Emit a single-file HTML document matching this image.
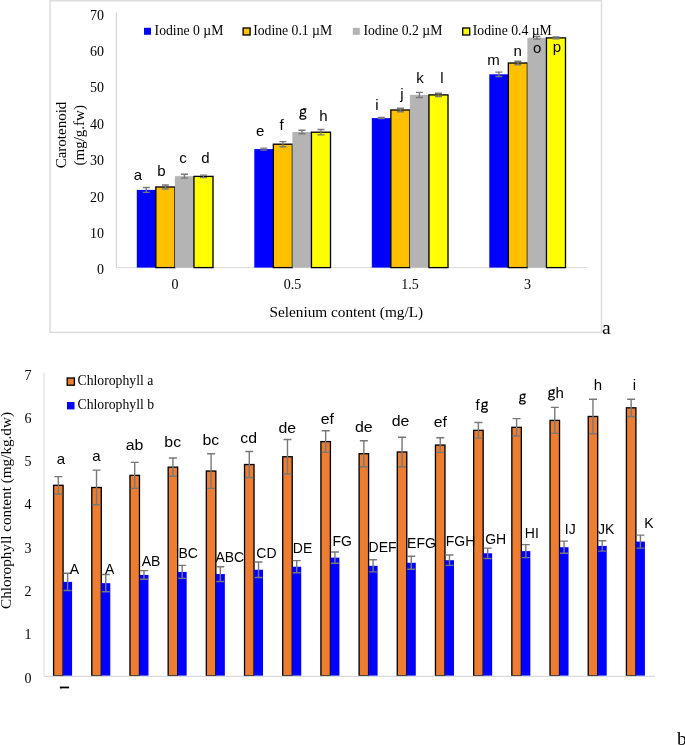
<!DOCTYPE html>
<html><head><meta charset="utf-8"><style>
html,body{margin:0;padding:0;background:#fff;width:685px;height:745px;overflow:hidden}
svg{display:block;will-change:transform}
text{fill:#000}
</style></head><body>
<svg width="685" height="745" viewBox="0 0 685 745">
<rect x="50.0" y="0.8" width="551.5" height="331.59999999999997" fill="#fff" stroke="#dcdcdc" stroke-width="1.5"/>
<line x1="116.3" y1="12.8" x2="116.3" y2="267.6" stroke="#d9d9d9" stroke-width="1.3"/>
<line x1="116.3" y1="267.6" x2="587" y2="267.6" stroke="#d9d9d9" stroke-width="1"/>
<rect x="136.80" y="189.90" width="19.05" height="77.70" fill="#0000ff"/>
<rect x="155.85" y="187.00" width="19.05" height="80.60" fill="#ffc000" stroke="#000" stroke-width="1.33"/>
<rect x="174.90" y="176.20" width="19.05" height="91.40" fill="#b4b4b4"/>
<rect x="193.95" y="176.40" width="19.05" height="91.20" fill="#ffff00" stroke="#000" stroke-width="1.33"/>
<rect x="254.30" y="149.10" width="19.05" height="118.50" fill="#0000ff"/>
<rect x="273.35" y="144.20" width="19.05" height="123.40" fill="#ffc000" stroke="#000" stroke-width="1.33"/>
<rect x="292.40" y="132.00" width="19.05" height="135.60" fill="#b4b4b4"/>
<rect x="311.45" y="132.20" width="19.05" height="135.40" fill="#ffff00" stroke="#000" stroke-width="1.33"/>
<rect x="371.80" y="118.10" width="19.05" height="149.50" fill="#0000ff"/>
<rect x="390.85" y="110.00" width="19.05" height="157.60" fill="#ffc000" stroke="#000" stroke-width="1.33"/>
<rect x="409.90" y="94.90" width="19.05" height="172.70" fill="#b4b4b4"/>
<rect x="428.95" y="94.90" width="19.05" height="172.70" fill="#ffff00" stroke="#000" stroke-width="1.33"/>
<rect x="489.30" y="74.30" width="19.05" height="193.30" fill="#0000ff"/>
<rect x="508.35" y="63.00" width="19.05" height="204.60" fill="#ffc000" stroke="#000" stroke-width="1.33"/>
<rect x="527.40" y="37.80" width="19.05" height="229.80" fill="#b4b4b4"/>
<rect x="546.45" y="37.90" width="19.05" height="229.70" fill="#ffff00" stroke="#000" stroke-width="1.33"/>
<path d="M142.83 187.45H149.83M146.33 187.45V192.35M142.83 192.35H149.83" stroke="#787878" stroke-width="1.4" fill="none"/>
<path d="M161.88 184.95H168.88M165.38 184.95V189.05M161.88 189.05H168.88" stroke="#787878" stroke-width="1.4" fill="none"/>
<path d="M180.93 174.25H187.93M184.43 174.25V178.15M180.93 178.15H187.93" stroke="#787878" stroke-width="1.4" fill="none"/>
<path d="M199.98 175.15H206.98M203.48 175.15V177.65M199.98 177.65H206.98" stroke="#787878" stroke-width="1.4" fill="none"/>
<path d="M260.32 148.10H267.32M263.82 148.10V150.10M260.32 150.10H267.32" stroke="#787878" stroke-width="1.4" fill="none"/>
<path d="M279.37 141.60H286.37M282.87 141.60V146.80M279.37 146.80H286.37" stroke="#787878" stroke-width="1.4" fill="none"/>
<path d="M298.42 130.30H305.42M301.92 130.30V133.70M298.42 133.70H305.42" stroke="#787878" stroke-width="1.4" fill="none"/>
<path d="M317.47 129.50H324.47M320.97 129.50V134.90M317.47 134.90H324.47" stroke="#787878" stroke-width="1.4" fill="none"/>
<path d="M377.82 117.55H384.82M381.32 117.55V118.65M377.82 118.65H384.82" stroke="#787878" stroke-width="1.4" fill="none"/>
<path d="M396.87 108.25H403.87M400.37 108.25V111.75M396.87 111.75H403.87" stroke="#787878" stroke-width="1.4" fill="none"/>
<path d="M415.92 92.35H422.92M419.42 92.35V97.45M415.92 97.45H422.92" stroke="#787878" stroke-width="1.4" fill="none"/>
<path d="M434.97 93.30H441.97M438.47 93.30V96.50M434.97 96.50H441.97" stroke="#787878" stroke-width="1.4" fill="none"/>
<path d="M495.32 72.15H502.32M498.82 72.15V76.45M495.32 76.45H502.32" stroke="#787878" stroke-width="1.4" fill="none"/>
<path d="M514.38 61.20H521.38M517.88 61.20V64.80M514.38 64.80H521.38" stroke="#787878" stroke-width="1.4" fill="none"/>
<path d="M533.42 36.50H540.42M536.92 36.50V39.10M533.42 39.10H540.42" stroke="#787878" stroke-width="1.4" fill="none"/>
<path d="M552.47 37.05H559.47M555.97 37.05V38.75M552.47 38.75H559.47" stroke="#787878" stroke-width="1.4" fill="none"/>
<text x="104" y="274.40" text-anchor="end" font-family='"Liberation Serif", serif' font-size="14">0</text>
<text x="104" y="238.00" text-anchor="end" font-family='"Liberation Serif", serif' font-size="14">10</text>
<text x="104" y="201.60" text-anchor="end" font-family='"Liberation Serif", serif' font-size="14">20</text>
<text x="104" y="165.20" text-anchor="end" font-family='"Liberation Serif", serif' font-size="14">30</text>
<text x="104" y="128.80" text-anchor="end" font-family='"Liberation Serif", serif' font-size="14">40</text>
<text x="104" y="92.40" text-anchor="end" font-family='"Liberation Serif", serif' font-size="14">50</text>
<text x="104" y="56.00" text-anchor="end" font-family='"Liberation Serif", serif' font-size="14">60</text>
<text x="104" y="19.60" text-anchor="end" font-family='"Liberation Serif", serif' font-size="14">70</text>
<text x="174.90" y="289" text-anchor="middle" font-family='"Liberation Serif", serif' font-size="14">0</text>
<text x="292.40" y="289" text-anchor="middle" font-family='"Liberation Serif", serif' font-size="14">0.5</text>
<text x="409.90" y="289" text-anchor="middle" font-family='"Liberation Serif", serif' font-size="14">1.5</text>
<text x="527.40" y="289" text-anchor="middle" font-family='"Liberation Serif", serif' font-size="14">3</text>
<text x="346.3" y="317.3" text-anchor="middle" font-family='"Liberation Serif", serif' font-size="15.3">Selenium content (mg/L)</text>
<text transform="translate(66,135) rotate(-90)" text-anchor="middle" font-family='"Liberation Serif", serif' font-size="15">Carotenoid</text>
<text transform="translate(84,135.3) rotate(-90)" text-anchor="middle" font-family='"Liberation Serif", serif' font-size="15">(mg/g.fw)</text>
<rect x="144" y="27.8" width="7" height="7" fill="#0000ff"/>
<text x="154.6" y="34.6" font-family='"Liberation Serif", serif' font-size="13.7">Iodine 0 µM</text>
<rect x="243.1" y="28" width="7" height="7" fill="#ffc000" stroke="#000" stroke-width="1.33"/>
<text x="253.2" y="34.6" font-family='"Liberation Serif", serif' font-size="13.7">Iodine 0.1 µM</text>
<rect x="352.8" y="27.8" width="7" height="7" fill="#b4b4b4"/>
<text x="363.40000000000003" y="34.6" font-family='"Liberation Serif", serif' font-size="13.7">Iodine 0.2 µM</text>
<rect x="462.7" y="28" width="7" height="7" fill="#ffff00" stroke="#000" stroke-width="1.33"/>
<text x="472.8" y="34.6" font-family='"Liberation Serif", serif' font-size="13.7">Iodine 0.4 µM</text>
<text x="137.9" y="180.0" text-anchor="middle" font-family='"Liberation Sans", sans-serif' font-size="15">a</text>
<text x="161.5" y="175.8" text-anchor="middle" font-family='"Liberation Sans", sans-serif' font-size="15">b</text>
<text x="183.1" y="162.6" text-anchor="middle" font-family='"Liberation Sans", sans-serif' font-size="15">c</text>
<text x="205.4" y="162.6" text-anchor="middle" font-family='"Liberation Sans", sans-serif' font-size="15">d</text>
<text x="260.2" y="135.5" text-anchor="middle" font-family='"Liberation Sans", sans-serif' font-size="15">e</text>
<text x="281.7" y="130.1" text-anchor="middle" font-family='"Liberation Sans", sans-serif' font-size="15">f</text>
<text x="323.4" y="120.7" text-anchor="middle" font-family='"Liberation Sans", sans-serif' font-size="15">h</text>
<text x="377.0" y="109.6" text-anchor="middle" font-family='"Liberation Sans", sans-serif' font-size="15">i</text>
<text x="402.0" y="98.7" text-anchor="middle" font-family='"Liberation Sans", sans-serif' font-size="15">j</text>
<text x="420.0" y="82.7" text-anchor="middle" font-family='"Liberation Sans", sans-serif' font-size="15">k</text>
<text x="442.0" y="82.7" text-anchor="middle" font-family='"Liberation Sans", sans-serif' font-size="15">l</text>
<text x="493.5" y="64.5" text-anchor="middle" font-family='"Liberation Sans", sans-serif' font-size="15">m</text>
<text x="517.7" y="55.5" text-anchor="middle" font-family='"Liberation Sans", sans-serif' font-size="15">n</text>
<text x="537.1" y="53.3" text-anchor="middle" font-family='"Liberation Sans", sans-serif' font-size="15">o</text>
<text x="557.0" y="52.3" text-anchor="middle" font-family='"Liberation Sans", sans-serif' font-size="15">p</text>
<path d="M302.97 108.91L306.44 108.91M300.63 111.31A2.40 2.09 0 1 0 305.42 111.31A2.40 2.09 0 1 0 300.63 111.31M301.03 112.89C300.22 113.71 300.22 115.03 301.54 115.69M299.91 117.43A2.96 1.79 0 1 0 305.83 117.43A2.96 1.79 0 1 0 299.91 117.43" fill="none" stroke="#000" stroke-width="1.22"/>
<text x="602" y="334" font-family='"Liberation Serif", serif' font-size="19.5">a</text>
<line x1="44" y1="372.9" x2="44" y2="675.8" stroke="#d9d9d9" stroke-width="1"/>
<rect x="53.59" y="485.32" width="9.5" height="190.48" fill="#ed7d31" stroke="#000" stroke-width="1.33"/>
<rect x="63.09" y="581.86" width="9" height="93.94" fill="#0000ff"/>
<rect x="91.78" y="487.49" width="9.5" height="188.31" fill="#ed7d31" stroke="#000" stroke-width="1.33"/>
<rect x="101.28" y="583.16" width="9" height="92.64" fill="#0000ff"/>
<rect x="129.97" y="475.37" width="9.5" height="200.43" fill="#ed7d31" stroke="#000" stroke-width="1.33"/>
<rect x="139.47" y="574.93" width="9" height="100.87" fill="#0000ff"/>
<rect x="168.16" y="467.14" width="9.5" height="208.66" fill="#ed7d31" stroke="#000" stroke-width="1.33"/>
<rect x="177.66" y="571.90" width="9" height="103.90" fill="#0000ff"/>
<rect x="206.34" y="471.04" width="9.5" height="204.76" fill="#ed7d31" stroke="#000" stroke-width="1.33"/>
<rect x="215.84" y="574.07" width="9" height="101.73" fill="#0000ff"/>
<rect x="244.53" y="464.54" width="9.5" height="211.26" fill="#ed7d31" stroke="#000" stroke-width="1.33"/>
<rect x="254.03" y="569.74" width="9" height="106.06" fill="#0000ff"/>
<rect x="282.72" y="456.75" width="9.5" height="219.05" fill="#ed7d31" stroke="#000" stroke-width="1.33"/>
<rect x="292.22" y="566.71" width="9" height="109.09" fill="#0000ff"/>
<rect x="320.91" y="441.60" width="9.5" height="234.20" fill="#ed7d31" stroke="#000" stroke-width="1.33"/>
<rect x="330.41" y="557.62" width="9" height="118.18" fill="#0000ff"/>
<rect x="359.09" y="453.72" width="9.5" height="222.08" fill="#ed7d31" stroke="#000" stroke-width="1.33"/>
<rect x="368.59" y="565.84" width="9" height="109.96" fill="#0000ff"/>
<rect x="397.28" y="451.99" width="9.5" height="223.81" fill="#ed7d31" stroke="#000" stroke-width="1.33"/>
<rect x="406.78" y="562.81" width="9" height="112.99" fill="#0000ff"/>
<rect x="435.47" y="445.06" width="9.5" height="230.74" fill="#ed7d31" stroke="#000" stroke-width="1.33"/>
<rect x="444.97" y="560.22" width="9" height="115.58" fill="#0000ff"/>
<rect x="473.66" y="430.35" width="9.5" height="245.45" fill="#ed7d31" stroke="#000" stroke-width="1.33"/>
<rect x="483.16" y="553.29" width="9" height="122.51" fill="#0000ff"/>
<rect x="511.84" y="427.32" width="9.5" height="248.48" fill="#ed7d31" stroke="#000" stroke-width="1.33"/>
<rect x="521.34" y="551.12" width="9" height="124.68" fill="#0000ff"/>
<rect x="550.03" y="420.39" width="9.5" height="255.41" fill="#ed7d31" stroke="#000" stroke-width="1.33"/>
<rect x="559.53" y="547.23" width="9" height="128.57" fill="#0000ff"/>
<rect x="588.22" y="416.49" width="9.5" height="259.31" fill="#ed7d31" stroke="#000" stroke-width="1.33"/>
<rect x="597.72" y="545.93" width="9" height="129.87" fill="#0000ff"/>
<rect x="626.41" y="407.83" width="9.5" height="267.97" fill="#ed7d31" stroke="#000" stroke-width="1.33"/>
<rect x="635.91" y="541.60" width="9" height="134.20" fill="#0000ff"/>
<line x1="44" y1="676.4" x2="655" y2="676.4" stroke="#d9d9d9" stroke-width="1.2"/>
<path d="M54.34 476.67H62.34M58.34 476.67V493.98M54.34 493.98H62.34" stroke="#787878" stroke-width="1.4" fill="none"/>
<path d="M63.59 573.20H71.59M67.59 573.20V590.52M63.59 590.52H71.59" stroke="#787878" stroke-width="1.4" fill="none"/>
<path d="M92.53 470.17H100.53M96.53 470.17V504.80M92.53 504.80H100.53" stroke="#787878" stroke-width="1.4" fill="none"/>
<path d="M101.78 574.50H109.78M105.78 574.50V591.82M101.78 591.82H109.78" stroke="#787878" stroke-width="1.4" fill="none"/>
<path d="M130.72 462.38H138.72M134.72 462.38V488.35M130.72 488.35H138.72" stroke="#787878" stroke-width="1.4" fill="none"/>
<path d="M139.97 570.61H147.97M143.97 570.61V579.26M139.97 579.26H147.97" stroke="#787878" stroke-width="1.4" fill="none"/>
<path d="M168.91 458.05H176.91M172.91 458.05V476.23M168.91 476.23H176.91" stroke="#787878" stroke-width="1.4" fill="none"/>
<path d="M178.16 565.41H186.16M182.16 565.41V578.40M178.16 578.40H186.16" stroke="#787878" stroke-width="1.4" fill="none"/>
<path d="M207.09 453.72H215.09M211.09 453.72V488.35M207.09 488.35H215.09" stroke="#787878" stroke-width="1.4" fill="none"/>
<path d="M216.34 566.71H224.34M220.34 566.71V581.43M216.34 581.43H224.34" stroke="#787878" stroke-width="1.4" fill="none"/>
<path d="M245.28 451.56H253.28M249.28 451.56V477.53M245.28 477.53H253.28" stroke="#787878" stroke-width="1.4" fill="none"/>
<path d="M254.53 561.95H262.53M258.53 561.95V577.53M254.53 577.53H262.53" stroke="#787878" stroke-width="1.4" fill="none"/>
<path d="M283.47 439.44H291.47M287.47 439.44V474.07M283.47 474.07H291.47" stroke="#787878" stroke-width="1.4" fill="none"/>
<path d="M292.72 560.65H300.72M296.72 560.65V572.77M292.72 572.77H300.72" stroke="#787878" stroke-width="1.4" fill="none"/>
<path d="M321.66 430.78H329.66M325.66 430.78V452.42M321.66 452.42H329.66" stroke="#787878" stroke-width="1.4" fill="none"/>
<path d="M330.91 551.99H338.91M334.91 551.99V563.25M330.91 563.25H338.91" stroke="#787878" stroke-width="1.4" fill="none"/>
<path d="M359.84 440.74H367.84M363.84 440.74V466.71M359.84 466.71H367.84" stroke="#787878" stroke-width="1.4" fill="none"/>
<path d="M369.09 559.78H377.09M373.09 559.78V571.90M369.09 571.90H377.09" stroke="#787878" stroke-width="1.4" fill="none"/>
<path d="M398.03 437.27H406.03M402.03 437.27V466.71M398.03 466.71H406.03" stroke="#787878" stroke-width="1.4" fill="none"/>
<path d="M407.28 556.32H415.28M411.28 556.32V569.31M407.28 569.31H415.28" stroke="#787878" stroke-width="1.4" fill="none"/>
<path d="M436.22 437.70H444.22M440.22 437.70V452.42M436.22 452.42H444.22" stroke="#787878" stroke-width="1.4" fill="none"/>
<path d="M445.47 555.02H453.47M449.47 555.02V565.41M445.47 565.41H453.47" stroke="#787878" stroke-width="1.4" fill="none"/>
<path d="M474.41 422.55H482.41M478.41 422.55V438.14M474.41 438.14H482.41" stroke="#787878" stroke-width="1.4" fill="none"/>
<path d="M483.66 548.09H491.66M487.66 548.09V558.48M483.66 558.48H491.66" stroke="#787878" stroke-width="1.4" fill="none"/>
<path d="M512.59 418.66H520.59M516.59 418.66V435.97M512.59 435.97H520.59" stroke="#787878" stroke-width="1.4" fill="none"/>
<path d="M521.84 544.63H529.84M525.84 544.63V557.62M521.84 557.62H529.84" stroke="#787878" stroke-width="1.4" fill="none"/>
<path d="M550.78 407.40H558.78M554.78 407.40V433.38M550.78 433.38H558.78" stroke="#787878" stroke-width="1.4" fill="none"/>
<path d="M560.03 541.17H568.03M564.03 541.17V553.29M560.03 553.29H568.03" stroke="#787878" stroke-width="1.4" fill="none"/>
<path d="M588.97 399.18H596.97M592.97 399.18V433.81M588.97 433.81H596.97" stroke="#787878" stroke-width="1.4" fill="none"/>
<path d="M598.22 540.74H606.22M602.22 540.74V551.12M598.22 551.12H606.22" stroke="#787878" stroke-width="1.4" fill="none"/>
<path d="M627.16 399.18H635.16M631.16 399.18V416.49M627.16 416.49H635.16" stroke="#787878" stroke-width="1.4" fill="none"/>
<path d="M636.41 535.11H644.41M640.41 535.11V548.09M636.41 548.09H644.41" stroke="#787878" stroke-width="1.4" fill="none"/>
<text x="31.5" y="682.60" text-anchor="end" font-family='"Liberation Serif", serif' font-size="14">0</text>
<text x="31.5" y="639.31" text-anchor="end" font-family='"Liberation Serif", serif' font-size="14">1</text>
<text x="31.5" y="596.02" text-anchor="end" font-family='"Liberation Serif", serif' font-size="14">2</text>
<text x="31.5" y="552.73" text-anchor="end" font-family='"Liberation Serif", serif' font-size="14">3</text>
<text x="31.5" y="509.44" text-anchor="end" font-family='"Liberation Serif", serif' font-size="14">4</text>
<text x="31.5" y="466.15" text-anchor="end" font-family='"Liberation Serif", serif' font-size="14">5</text>
<text x="31.5" y="422.86" text-anchor="end" font-family='"Liberation Serif", serif' font-size="14">6</text>
<text x="31.5" y="379.57" text-anchor="end" font-family='"Liberation Serif", serif' font-size="14">7</text>
<path d="M59.9 687.45H69.1" stroke="#000" stroke-width="1.75" fill="none"/><path d="M60.3 687.8L61.6 689.4" stroke="#000" stroke-width="0.9" opacity="0.6" fill="none"/>
<text transform="translate(11,510.5) rotate(-90)" text-anchor="middle" font-family='"Liberation Serif", serif' font-size="15.2">Chlorophyll content (mg/kg.dw)</text>
<rect x="67.2" y="378" width="7.2" height="7.2" fill="#ed7d31" stroke="#000" stroke-width="1.33"/>
<text x="77.6" y="385.2" font-family='"Liberation Serif", serif' font-size="13.7">Chlorophyll a</text>
<rect x="67" y="402" width="7.5" height="7.4" fill="#0000ff"/>
<text x="77.6" y="408.9" font-family='"Liberation Serif", serif' font-size="13.7">Chlorophyll b</text>
<text transform="translate(60.9,464) scale(1.0,1)" text-anchor="middle" font-family='"Liberation Sans", sans-serif' font-size="15">a</text>
<text transform="translate(96.4,460.5) scale(1.0,1)" text-anchor="middle" font-family='"Liberation Sans", sans-serif' font-size="15">a</text>
<text transform="translate(134.6,449.6) scale(1.06,1)" text-anchor="middle" font-family='"Liberation Sans", sans-serif' font-size="15">ab</text>
<text transform="translate(172.7,446.6) scale(1.06,1)" text-anchor="middle" font-family='"Liberation Sans", sans-serif' font-size="15">bc</text>
<text transform="translate(210.9,444.5) scale(1.06,1)" text-anchor="middle" font-family='"Liberation Sans", sans-serif' font-size="15">bc</text>
<text transform="translate(248.7,443.1) scale(1.06,1)" text-anchor="middle" font-family='"Liberation Sans", sans-serif' font-size="15">cd</text>
<text transform="translate(287.3,432.9) scale(1.06,1)" text-anchor="middle" font-family='"Liberation Sans", sans-serif' font-size="15">de</text>
<text transform="translate(327.4,423.7) scale(1.06,1)" text-anchor="middle" font-family='"Liberation Sans", sans-serif' font-size="15">ef</text>
<text transform="translate(363.7,431.9) scale(1.06,1)" text-anchor="middle" font-family='"Liberation Sans", sans-serif' font-size="15">de</text>
<text transform="translate(400.6,425.9) scale(1.06,1)" text-anchor="middle" font-family='"Liberation Sans", sans-serif' font-size="15">de</text>
<text transform="translate(440.3,427) scale(1.06,1)" text-anchor="middle" font-family='"Liberation Sans", sans-serif' font-size="15">ef</text>
<text transform="translate(597.8,390) scale(1.0,1)" text-anchor="middle" font-family='"Liberation Sans", sans-serif' font-size="15">h</text>
<text transform="translate(634.3,390) scale(1.0,1)" text-anchor="middle" font-family='"Liberation Sans", sans-serif' font-size="15">i</text>
<text x="74.5" y="573.5" text-anchor="middle" font-family='"Liberation Sans", sans-serif' font-size="14">A</text>
<text x="109.7" y="573.5" text-anchor="middle" font-family='"Liberation Sans", sans-serif' font-size="14">A</text>
<text x="151" y="566.1" text-anchor="middle" font-family='"Liberation Sans", sans-serif' font-size="14">AB</text>
<text x="188.2" y="558" text-anchor="middle" font-family='"Liberation Sans", sans-serif' font-size="14">BC</text>
<text x="229.8" y="561.9" text-anchor="middle" font-family='"Liberation Sans", sans-serif' font-size="14">ABC</text>
<text x="266.4" y="558.4" text-anchor="middle" font-family='"Liberation Sans", sans-serif' font-size="14">CD</text>
<text x="302.5" y="553.3" text-anchor="middle" font-family='"Liberation Sans", sans-serif' font-size="14">DE</text>
<text x="342.3" y="546.1" text-anchor="middle" font-family='"Liberation Sans", sans-serif' font-size="14">FG</text>
<text x="382.6" y="552.4" text-anchor="middle" font-family='"Liberation Sans", sans-serif' font-size="14">DEF</text>
<text x="421.5" y="547.5" text-anchor="middle" font-family='"Liberation Sans", sans-serif' font-size="14">EFG</text>
<text x="460.6" y="546.3" text-anchor="middle" font-family='"Liberation Sans", sans-serif' font-size="14">FGH</text>
<text x="495.7" y="544.2" text-anchor="middle" font-family='"Liberation Sans", sans-serif' font-size="14">GH</text>
<text x="531.8" y="538.4" text-anchor="middle" font-family='"Liberation Sans", sans-serif' font-size="14">HI</text>
<text x="570.3" y="534" text-anchor="middle" font-family='"Liberation Sans", sans-serif' font-size="14">IJ</text>
<text x="606.2" y="533.6" text-anchor="middle" font-family='"Liberation Sans", sans-serif' font-size="14">JK</text>
<text x="649" y="527.5" text-anchor="middle" font-family='"Liberation Sans", sans-serif' font-size="14">K</text>
<text x="475.6" y="409.6" font-family='"Liberation Sans", sans-serif' font-size="15">f</text>
<path d="M484.50 402.10L487.90 402.10M482.20 404.45A2.35 2.05 0 1 0 486.90 404.45A2.35 2.05 0 1 0 482.20 404.45M482.60 406.00C481.80 406.80 481.80 408.10 483.10 408.75M481.50 410.45A2.90 1.75 0 1 0 487.30 410.45A2.90 1.75 0 1 0 481.50 410.45" fill="none" stroke="#000" stroke-width="1.20"/>
<path d="M522.49 394.18L525.79 394.18M520.26 396.46A2.28 1.99 0 1 0 524.82 396.46A2.28 1.99 0 1 0 520.26 396.46M520.65 397.97C519.87 398.74 519.87 400.00 521.13 400.63M519.58 402.28A2.81 1.70 0 1 0 525.21 402.28A2.81 1.70 0 1 0 519.58 402.28" fill="none" stroke="#000" stroke-width="1.16"/>
<path d="M551.50 389.90L554.90 389.90M549.20 392.25A2.35 2.05 0 1 0 553.90 392.25A2.35 2.05 0 1 0 549.20 392.25M549.60 393.80C548.80 394.60 548.80 395.90 550.10 396.55M548.50 398.25A2.90 1.75 0 1 0 554.30 398.25A2.90 1.75 0 1 0 548.50 398.25" fill="none" stroke="#000" stroke-width="1.20"/>
<text x="555.6" y="397.8" font-family='"Liberation Sans", sans-serif' font-size="15">h</text>
<text x="677" y="745" font-family='"Liberation Serif", serif' font-size="19.5">b</text>
</svg>
</body></html>
